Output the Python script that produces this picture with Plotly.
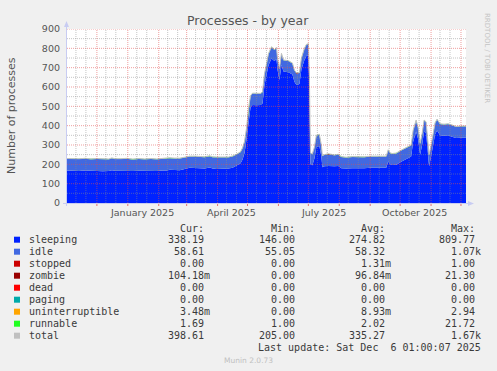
import plotly.graph_objects as go
import pandas as pd

# ---------------- data ----------------
start = pd.Timestamp("2024-11-01 01:00")
end = pd.Timestamp("2025-12-06 01:00")

days = [0, 4, 8, 12, 18, 24, 30, 36, 42, 45, 48, 54, 60, 66, 72, 78, 84, 90, 96, 100,
        103, 108, 113, 118, 123, 128, 133, 138, 143, 146, 150, 156, 162, 166, 170, 174, 176, 178, 180, 182,
        184, 186, 190, 194, 196, 198, 200, 202, 205, 208, 210, 211, 213, 215, 217, 222, 226, 228, 230, 233,
        235, 238, 240, 242, 243, 244, 246, 248, 250, 253, 255, 256, 258, 262, 268, 272, 275, 280, 286, 292,
        298, 304, 310, 316, 320, 322, 324, 326, 330, 335, 340, 345, 347, 350, 352, 354, 356, 358, 360, 362,
        363, 365, 367, 369, 371, 374, 378, 382, 386, 390, 395, 400]

sleeping = [168, 166, 167, 165, 168, 166, 167, 164, 166, 170, 167, 166, 167, 165, 167, 166, 167, 166, 168, 168,
            172, 171, 170, 176, 182, 181, 179, 178, 184, 178, 176, 176, 178, 182, 192, 205, 225, 260, 330, 430,
            495, 507, 505, 507, 515, 610, 660, 712, 748, 735, 745, 690, 636, 715, 680, 676, 665, 627, 610, 615,
            690, 740, 760, 765, 600, 200, 195, 230, 290, 295, 240, 185, 190, 192, 190, 192, 180, 178, 180, 179,
            180, 182, 181, 182, 182, 215, 200, 196, 198, 214, 225, 240, 317, 370, 330, 250, 300, 370, 360, 250,
            190, 240, 300, 355, 375, 350, 348, 350, 343, 336, 338, 338]

idle = [60, 61, 60, 62, 61, 60, 61, 62, 60, 61, 60, 61, 62, 60, 61, 60, 61, 60, 61, 60,
        60, 59, 60, 59, 58, 59, 60, 59, 58, 59, 60, 59, 58, 59, 58, 58, 58, 57, 57, 58,
        58, 59, 59, 58, 58, 57, 57, 58, 58, 57, 57, 57, 58, 57, 58, 58, 57, 58, 58, 57,
        57, 58, 58, 57, 57, 58, 57, 57, 58, 58, 57, 58, 58, 58, 57, 58, 58, 57, 58, 58,
        57, 58, 58, 57, 58, 58, 57, 58, 58, 57, 58, 58, 57, 57, 58, 57, 57, 57, 58, 57,
        57, 57, 58, 58, 57, 58, 58, 58, 59, 58, 58.6, 58.6]

runnable = [2.1, 2.0, 2.2, 1.9, 2.0, 2.3, 2.0, 2.1, 1.9, 2.2, 2.0, 2.1, 2.0, 2.2, 1.9, 2.0, 2.1, 2.0, 2.2, 2.0,
            2.0, 2.1, 2.0, 1.9, 2.0, 2.1, 2.0, 2.2, 2.0, 1.9, 2.0, 2.1, 2.0, 2.1, 2.0, 2.2, 2.3, 2.4, 2.6, 2.5,
            2.3, 2.2, 2.1, 2.0, 2.1, 2.2, 2.3, 2.2, 2.1, 2.0, 2.1, 2.0, 2.1, 2.2, 2.0, 2.1, 2.0, 2.1, 2.0, 2.1,
            2.0, 2.1, 2.2, 2.3, 2.1, 2.0, 1.9, 2.0, 2.1, 2.0, 1.9, 2.0, 2.1, 2.0, 1.9, 2.0, 2.0, 1.9, 2.0, 2.1,
            2.0, 1.9, 2.0, 2.1, 2.0, 2.2, 2.0, 1.9, 2.0, 2.1, 2.0, 1.9, 2.0, 2.1, 2.0, 1.9, 2.0, 2.1, 2.0, 1.9,
            1.8, 1.9, 2.0, 1.9, 1.8, 1.7, 1.8, 1.7, 1.8, 1.7, 1.7, 1.69]

zombie_days = [230, 262]
zombie_vals = [4, 3]

legend_names = ["sleeping", "idle", "stopped", "zombie", "dead", "paging",
                "uninterruptible", "runnable", "total"]
legend_colors = ["#0022ff", "#4169e1", "#cc0000", "#990000", "#ff0000", "#00aaaa",
                 "#ffa500", "#22ff22", "#c0c0c0"]
cur_vals = ["338.19", "58.61", "0.00", "104.18m", "0.00", "0.00", "3.48m", "1.69", "398.61"]
min_vals = ["146.00", "55.05", "0.00", "0.00", "0.00", "0.00", "0.00", "1.00", "205.00"]
avg_vals = ["274.82", "58.32", "1.31m", "96.84m", "0.00", "0.00", "8.93m", "2.02", "335.27"]
max_vals = ["809.77", "1.07k", "1.00", "21.30", "0.00", "0.00", "2.94", "21.72", "1.67k"]

x_label_text = ["January 2025", "April 2025", "July 2025", "October 2025"]
x_label_dates = ["2025-01-15", "2025-04-15", "2025-07-16", "2025-10-15"]
y_ticks = [0, 100, 200, 300, 400, 500, 600, 700, 800, 900]

assert len(days) == len(sleeping) == len(idle) == len(runnable)

x = [start + pd.Timedelta(days=d) for d in days]
zombie = [zombie_vals[zombie_days.index(d)] if d in zombie_days else 0 for d in days]
total = [s + i + z + r for s, i, z, r in zip(sleeping, idle, zombie, runnable)]

# ---------------- geometry ----------------
W, H = 497, 371
L, R, T, B = 67, 466, 29, 203


def px(xp):
    return (xp - L) / (R - L)


def py(yp):
    return (B - yp) / (B - T)


fig = go.Figure()
for name, vals, col in [("sleeping", sleeping, "#0022ff"), ("idle", idle, "#4169e1"),
                        ("zombie", zombie, "#990000"), ("runnable", runnable, "#22ff22")]:
    fig.add_trace(go.Scatter(x=x, y=vals, name=name, stackgroup="s", mode="lines",
                             line=dict(width=0, color=col), fillcolor=col, hoverinfo="skip"))
fig.add_trace(go.Scatter(x=x, y=total, name="total", mode="lines",
                         line=dict(color="#c0c0c0", width=1), hoverinfo="skip"))

shapes = []
RED = "rgba(225,80,80,0.55)"
GRAY = "rgba(140,140,140,0.5)"
DASH = "1px,1px"
# horizontal grid
for v in range(50, 900, 50):
    shapes.append(dict(type="line", xref="paper", yref="y", x0=0, x1=1, y0=v, y1=v,
                       line=dict(color=RED if v % 100 == 0 else GRAY, width=1, dash=DASH), layer="above"))
shapes.append(dict(type="line", xref="paper", yref="y", x0=0, x1=1, y0=900, y1=900,
                   line=dict(color=RED, width=1, dash=DASH), layer="above"))
# vertical grid
months = pd.date_range("2024-11-01", "2025-12-01", freq="MS")
for m in months:
    for dd, col in [(0, RED), (9, GRAY), (19, GRAY)]:
        t = m + pd.Timedelta(days=dd)
        if t <= start or t >= end:
            continue
        shapes.append(dict(type="line", xref="x", yref="paper", x0=t, x1=t, y0=0, y1=1,
                           line=dict(color=col, width=1, dash=DASH), layer="above"))
        if col == RED:
            shapes.append(dict(type="line", xref="x", yref="paper", x0=t, x1=t, y0=0, y1=py(206),
                               line=dict(color="rgba(225,80,80,0.8)", width=1), layer="above"))

AX = "#c8ccf2"
# axes with arrows
shapes.append(dict(type="line", xref="paper", yref="paper", x0=px(66.5), x1=px(66.5), y0=py(206), y1=py(24),
                   line=dict(color=AX, width=1), layer="above"))
shapes.append(dict(type="line", xref="paper", yref="paper", x0=px(63), x1=px(470), y0=py(203.5), y1=py(203.5),
                   line=dict(color=AX, width=1), layer="above"))
shapes.append(dict(type="path", xref="paper", yref="paper",
                   path=f"M {px(64)} {py(27)} L {px(69)} {py(27)} L {px(66.5)} {py(21)} Z",
                   fillcolor=AX, line=dict(width=0), layer="above"))
shapes.append(dict(type="path", xref="paper", yref="paper",
                   path=f"M {px(468)} {py(201)} L {px(468)} {py(206)} L {px(474)} {py(203.5)} Z",
                   fillcolor=AX, line=dict(width=0), layer="above"))

ann = []
TXT = "#555555"
ann.append(dict(text="Processes - by year", x=px(248), y=py(20), xref="paper", yref="paper",
                showarrow=False, xanchor="center", yanchor="middle",
                font=dict(family="DejaVu Sans", size=12.5, color=TXT)))
ann.append(dict(text="Number of processes", x=px(11), y=py(116), xref="paper", yref="paper",
                showarrow=False, xanchor="center", yanchor="middle", textangle=-90,
                font=dict(family="DejaVu Sans", size=11, color=TXT)))
ann.append(dict(text="RRDTOOL / TOBI OETIKER", x=px(487), y=py(58), xref="paper", yref="paper",
                showarrow=False, xanchor="center", yanchor="middle", textangle=90,
                font=dict(family="DejaVu Sans", size=7, color="#c4c4c4")))
for t, d in zip(x_label_text, x_label_dates):
    ann.append(dict(text=t, x=d, y=py(212.5), xref="x", yref="paper", showarrow=False,
                    xanchor="center", yanchor="middle",
                    font=dict(family="DejaVu Sans", size=9.5, color=TXT)))

MONO = "DejaVu Sans Mono"
LEG = "#3a3a3a"
CW = 6.02
col_ends = [212, 303, 393, 483]
headers = ["Cur:", "Min:", "Avg:", "Max:"]
for h, ce in zip(headers, col_ends):
    ann.append(dict(text=h, x=px(ce - CW), y=py(228), xref="paper", yref="paper", showarrow=False,
                    xanchor="right", yanchor="middle", font=dict(family=MONO, size=10, color=LEG)))
for i, (nm, colr) in enumerate(zip(legend_names, legend_colors)):
    yc = 239.7 + 12 * i
    shapes.append(dict(type="rect", xref="paper", yref="paper", x0=px(14), x1=px(20),
                       y0=py(yc - 3), y1=py(yc + 3), fillcolor=colr, line=dict(width=0)))
    ann.append(dict(text=nm, x=px(26.5), y=py(yc), xref="paper", yref="paper", showarrow=False,
                    xanchor="left", yanchor="middle", font=dict(family=MONO, size=10, color=LEG)))
    for vals, ce in zip([cur_vals, min_vals, avg_vals, max_vals], col_ends):
        v = vals[i]
        xr = ce if v[-1].isalpha() else ce - CW
        ann.append(dict(text=v, x=px(xr), y=py(yc), xref="paper", yref="paper", showarrow=False,
                        xanchor="right", yanchor="middle", font=dict(family=MONO, size=10, color=LEG)))
ann.append(dict(text="Last update: Sat Dec  6 01:00:07 2025".replace("  ", "\u00a0 "), x=px(483), y=py(347.7),
                xref="paper", yref="paper", showarrow=False, xanchor="right", yanchor="middle",
                font=dict(family=MONO, size=10, color=LEG)))
ann.append(dict(text="Munin 2.0.73", x=px(248), y=py(360.3), xref="paper", yref="paper", showarrow=False,
                xanchor="center", yanchor="middle", font=dict(family="DejaVu Sans", size=7.5, color="#c0c0c0")))

fig.update_layout(
    width=W, height=H, margin=dict(l=L, r=W - R, t=T, b=H - B, pad=0),
    paper_bgcolor="#f0f0f0", plot_bgcolor="#ffffff", showlegend=False,
    shapes=shapes, annotations=ann,
    xaxis=dict(type="date", range=[start, end], showgrid=False, zeroline=False, showline=False,
               showticklabels=False, ticks="", fixedrange=True),
    yaxis=dict(range=[0, 900], tickvals=y_ticks, showgrid=False, zeroline=False, showline=False,
               ticks="", ticklabelstandoff=6, tickfont=dict(family="DejaVu Sans", size=9.5, color=TXT),
               fixedrange=True),
)
fig.write_html("out.html", config={"displayModeBar": False, "staticPlot": True})

# remove the default page margin so the figure sits at the window's top-left corner
with open("out.html", encoding="utf-8") as f:
    html = f.read()
html = html.replace("<head>", "<head><style>html,body{margin:0;padding:0;overflow:hidden;background:#f0f0f0;}</style>", 1)
with open("out.html", "w", encoding="utf-8") as f:
    f.write(html)
